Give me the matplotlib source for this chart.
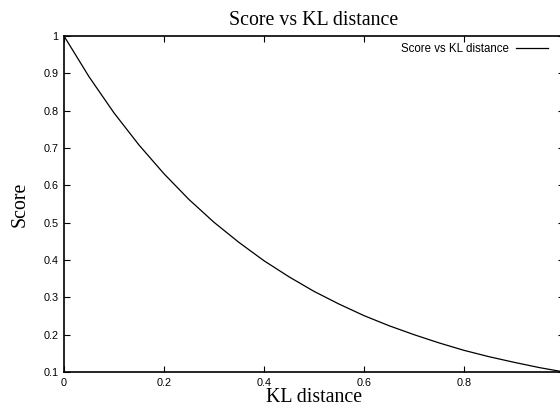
import matplotlib
matplotlib.use("Agg")
import matplotlib.pyplot as plt

# values
kl_distance = [0.0, 0.05, 0.10, 0.15, 0.20, 0.25, 0.30, 0.35, 0.40, 0.45, 0.50,
               0.55, 0.60, 0.65, 0.70, 0.75, 0.80, 0.85, 0.90, 0.95, 1.00]
score = [1.000, 0.891, 0.794, 0.708, 0.631, 0.562, 0.501, 0.447, 0.398, 0.355, 0.316,
         0.282, 0.251, 0.224, 0.200, 0.178, 0.158, 0.141, 0.126, 0.112, 0.100]
x_ticks = [0, 0.2, 0.4, 0.6, 0.8]
x_tick_labels = ["0", "0.2", "0.4", "0.6", "0.8"]
y_ticks = [0.1, 0.2, 0.3, 0.4, 0.5, 0.6, 0.7, 0.8, 0.9, 1.0]
y_tick_labels = ["0.1", "0.2", "0.3", "0.4", "0.5", "0.6", "0.7", "0.8", "0.9", "1"]

serif = ["Liberation Serif", "DejaVu Serif"]
sans = ["Liberation Sans", "DejaVu Sans"]

fig = plt.figure(figsize=(5.6, 4.08), dpi=100)
# plot area runs slightly past the right edge, as in the reference
ax = fig.add_axes([64 / 560, 36 / 408, 500 / 560, 336 / 408])

ax.plot(kl_distance, score, color="black", linewidth=0.9, label="Score vs KL distance")
ax.set_xlim(0, 1)
ax.set_ylim(0.1, 1)

ax.set_xticks(x_ticks)
ax.set_xticklabels(x_tick_labels, family=sans, fontsize=7.8)
ax.set_yticks(y_ticks)
ax.set_yticklabels(y_tick_labels, family=sans, fontsize=7.8)
ax.tick_params(direction="in", top=True, right=True, length=4, width=0.8, pad=4)

for s in ax.spines.values():
    s.set_linewidth(1.2)

ax.set_title("Score vs KL distance", family=serif, fontsize=14.3, pad=8)
ax.set_xlabel("KL distance", family=serif, fontsize=14.3, labelpad=0)
ax.set_ylabel("Score", family=serif, fontsize=14.3, labelpad=10)

leg = ax.legend(loc="upper right", frameon=False, prop={"family": sans, "size": 8.3},
                handlelength=2.8, handletextpad=0.6, markerfirst=False,
                bbox_to_anchor=(0.985, 1.003), borderaxespad=0.3)

fig.savefig("out.png", dpi=100)
